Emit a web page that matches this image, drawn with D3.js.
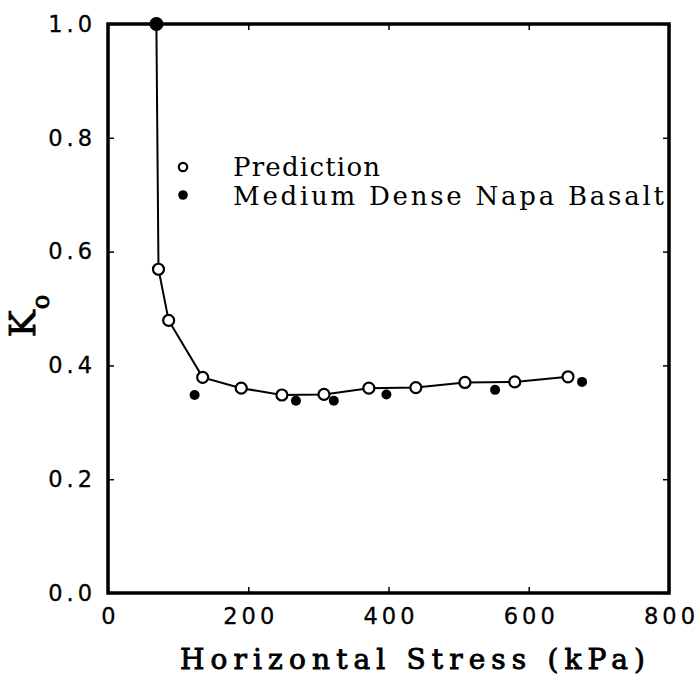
<!DOCTYPE html>
<html>
<head>
<meta charset="utf-8">
<script src="https://cdn.jsdelivr.net/npm/d3@7"></script>
<style>
  body { margin: 0; background: #fff; }
  svg text { font-family: "DejaVu Serif", serif; fill: #000; }
</style>
</head>
<body>
<div id="chart"></div>
<script>
// Prediction curve (open circles, joined by a line)
const predStress = [69, 72, 86.5, 135, 190, 248, 308, 372, 439, 509, 580, 656];
const predK = [1.0, 0.569, 0.479, 0.379, 0.360, 0.348, 0.349, 0.360, 0.361, 0.370, 0.371, 0.380];
// Measured points (filled dots)
const measStress = [69, 123.5, 268, 322, 397, 552, 676];
const measK = [1.0, 0.348, 0.338, 0.338, 0.349, 0.357, 0.371];
const xTicks = [0, 200, 400, 600, 800];
const yTicks = [0.0, 0.2, 0.4, 0.6, 0.8, 1.0];

const w = 699;
const h = 680;
const marginTop = 24;
const marginRight = 30;
const marginBottom = 87;
const marginLeft = 108;

const x = d3.scaleLinear().domain([0, 800]).range([marginLeft, w - marginRight]);
const y = d3.scaleLinear().domain([0, 1]).range([h - marginBottom, marginTop]);

const pred = predStress.map(function (s, i) { return { s: s, k: predK[i] }; });
const meas = measStress.map(function (s, i) { return { s: s, k: measK[i] }; });

const svg = d3.select("#chart").append("svg").attr("width", w).attr("height", h);

// inward ticks on all four sides
function tickAxis(axis, transform) {
  const g = svg.append("g").attr("transform", transform).call(axis);
  g.select(".domain").remove();
  g.selectAll(".tick line").attr("stroke", "#000").attr("stroke-width", 1.5);
  return g;
}
const bottom = tickAxis(d3.axisBottom(x).tickValues(xTicks).tickSizeInner(-6).tickPadding(17)
  .tickFormat(d3.format("d")), `translate(0,${y(0)})`);
const left = tickAxis(d3.axisLeft(y).tickValues(yTicks).tickSizeInner(-6).tickPadding(16)
  .tickFormat(d3.format(".1f")), `translate(${x(0)},0)`);
tickAxis(d3.axisTop(x).tickValues(xTicks).tickSizeInner(-6).tickFormat(""), `translate(0,${y(1)})`);
tickAxis(d3.axisRight(y).tickValues(yTicks).tickSizeInner(-6).tickFormat(""), `translate(${x(800)},0)`);

[bottom, left].forEach(function (g) {
  g.selectAll(".tick text")
    .style("font-family", "'DejaVu Sans', sans-serif")
    .attr("font-size", 22.5)
    .attr("letter-spacing", 4)
    .attr("stroke", "#000")
    .attr("stroke-width", 0.3)
    .attr("fill", "#000");
});
bottom.selectAll(".tick text").attr("dy", "0.6em").attr("dx", 2);
left.selectAll(".tick text").attr("dx", 4);

// frame
svg.append("rect")
  .attr("x", x(0)).attr("y", y(1))
  .attr("width", x(800) - x(0)).attr("height", y(0) - y(1))
  .attr("fill", "none").attr("stroke", "#000").attr("stroke-width", 3.5);

// prediction line
const line = d3.line().x(function (d) { return x(d.s); }).y(function (d) { return y(d.k); });
svg.append("path")
  .datum(pred)
  .attr("d", line)
  .attr("fill", "none")
  .attr("stroke", "#000")
  .attr("stroke-width", 2);

svg.append("g").selectAll("circle")
  .data(pred.slice(1))
  .enter().append("circle")
  .attr("cx", function (d) { return x(d.s); })
  .attr("cy", function (d) { return y(d.k); })
  .attr("r", 5.5)
  .attr("fill", "#fff")
  .attr("stroke", "#000")
  .attr("stroke-width", 2.2);

svg.append("g").selectAll("circle")
  .data(meas)
  .enter().append("circle")
  .attr("cx", function (d) { return x(d.s); })
  .attr("cy", function (d) { return y(d.k); })
  .attr("r", function (d, i) { return i === 0 ? 7 : 5; })
  .attr("fill", "#000");

// legend
const legend = svg.append("g").attr("font-size", 26);
legend.append("circle").attr("cx", 183).attr("cy", 167).attr("r", 4.2)
  .attr("fill", "#fff").attr("stroke", "#000").attr("stroke-width", 2.2);
legend.append("text").attr("x", 233).attr("y", 176)
  .attr("textLength", 147).attr("lengthAdjust", "spacing").text("Prediction");
legend.append("circle").attr("cx", 183).attr("cy", 195).attr("r", 4.8).attr("fill", "#000");
legend.append("text").attr("x", 233).attr("y", 205)
  .attr("textLength", 431).attr("lengthAdjust", "spacing").text("Medium Dense Napa Basalt");

// axis titles
svg.append("text")
  .attr("x", 180)
  .attr("y", 669)
  .attr("font-size", 28)
  .attr("stroke", "#000")
  .attr("stroke-width", 0.9)
  .attr("textLength", 465)
  .attr("lengthAdjust", "spacing")
  .text("Horizontal Stress (kPa)");

const yTitle = svg.append("text")
  .attr("transform", "translate(35,316) rotate(-90)")
  .attr("text-anchor", "middle")
  .attr("font-size", 36)
  .attr("stroke", "#000")
  .attr("stroke-width", 0.9);
yTitle.append("tspan").text("K");
yTitle.append("tspan").attr("font-size", 24).attr("dy", 14).attr("dx", 1).text("o");
</script>
</body>
</html>
